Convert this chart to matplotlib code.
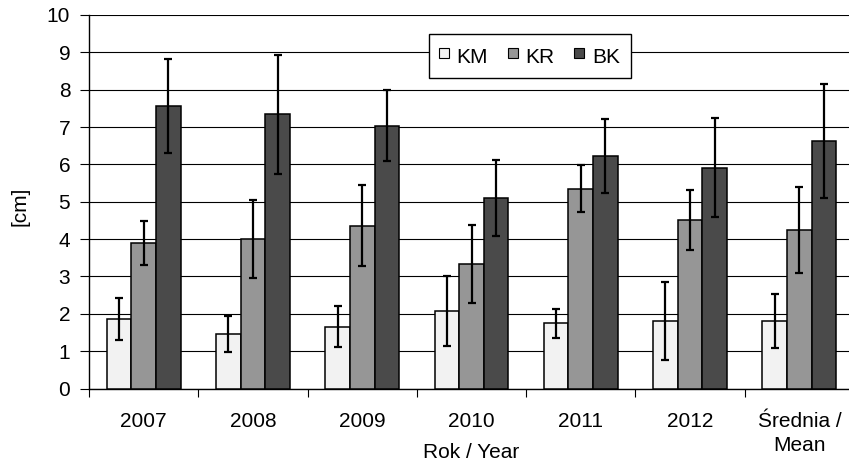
import numpy as np
import matplotlib
matplotlib.use('Agg')
import matplotlib.pyplot as plt
from matplotlib.lines import Line2D

# data
categories = ['2007', '2008', '2009', '2010', '2011', '2012', 'Średnia /\nMean']
series = ['KM', 'KR', 'BK']
km = [1.86, 1.47, 1.65, 2.07, 1.75, 1.81, 1.81]
kr = [3.89, 4.01, 4.36, 3.33, 5.35, 4.51, 4.24]
bk = [7.56, 7.34, 7.03, 5.10, 6.23, 5.91, 6.63]
km_err = [0.55, 0.48, 0.55, 0.93, 0.39, 1.04, 0.73]
kr_err = [0.59, 1.05, 1.08, 1.04, 0.63, 0.81, 1.15]
bk_err = [1.26, 1.60, 0.95, 1.03, 0.99, 1.32, 1.53]
colors = ['#f2f2f2', '#969696', '#4a4a4a']

plt.rcParams['font.family'] = ['Liberation Sans', 'DejaVu Sans']
plt.rcParams['font.size'] = 15

W, H = 849, 468
fig = plt.figure(figsize=(W / 100, H / 100), dpi=100)
# axes box in pixels: left 89, right 854, bottom 388.5, top 15
ax = fig.add_axes([89 / W, (H - 388.5) / H, (854 - 89) / W, (388.5 - 15) / H])

x = np.arange(len(categories))
width = 0.225
vals = [km, kr, bk]
errs = [km_err, kr_err, bk_err]
for i, (v, e) in enumerate(zip(vals, errs)):
    ax.bar(x + (i - 1) * width, v, width, color=colors[i], edgecolor='black',
           linewidth=1.1, zorder=3,
           yerr=e, error_kw=dict(ecolor='black', elinewidth=1.6, capsize=2.8, capthick=1.6, zorder=4))

ax.set_xlim(-0.5, len(categories) - 0.5)
ax.set_ylim(0, 10)
ax.set_yticks(range(0, 11))
ax.yaxis.grid(True, color='black', linewidth=0.8, zorder=0)
ax.set_axisbelow(True)

ax.set_xticks(x)
ax.set_xticklabels(categories, linespacing=1.35)
ax.tick_params(axis='x', length=0, pad=17)
ax.set_xticks(np.arange(len(categories) + 1) - 0.5, minor=True)
ax.tick_params(axis='x', which='minor', length=6, width=0.8, direction='out')
ax.tick_params(axis='y', length=6.5, width=0.8, direction='out', pad=7)

ax.spines['top'].set_visible(False)
ax.spines['right'].set_visible(False)
for s in ['left', 'bottom']:
    ax.spines[s].set_linewidth(1.0)

fig.text(471.5 / W, (H - 453) / H, 'Rok / Year', ha='center', va='center', fontsize=15)
fig.text(20 / W, (H - 206) / H, '[cm]', ha='center', va='center', rotation=90, fontsize=15)

handles = [Line2D([], [], marker='s', linestyle='none', markersize=7,
                  markerfacecolor=c, markeredgecolor='black', markeredgewidth=0.8)
           for c in colors]
leg = ax.legend(handles, series, ncol=3, loc='center',
                bbox_to_anchor=(529.7 / W, (H - 56) / H),
                bbox_transform=fig.transFigure, fancybox=False, framealpha=1,
                edgecolor='black', handlelength=0.45, handleheight=1.4,
                handletextpad=0.4, columnspacing=0.95, borderpad=0.5, fontsize=15)
leg.get_frame().set_linewidth(1.0)
leg.set_zorder(5)

fig.savefig('out.png', dpi=100)
